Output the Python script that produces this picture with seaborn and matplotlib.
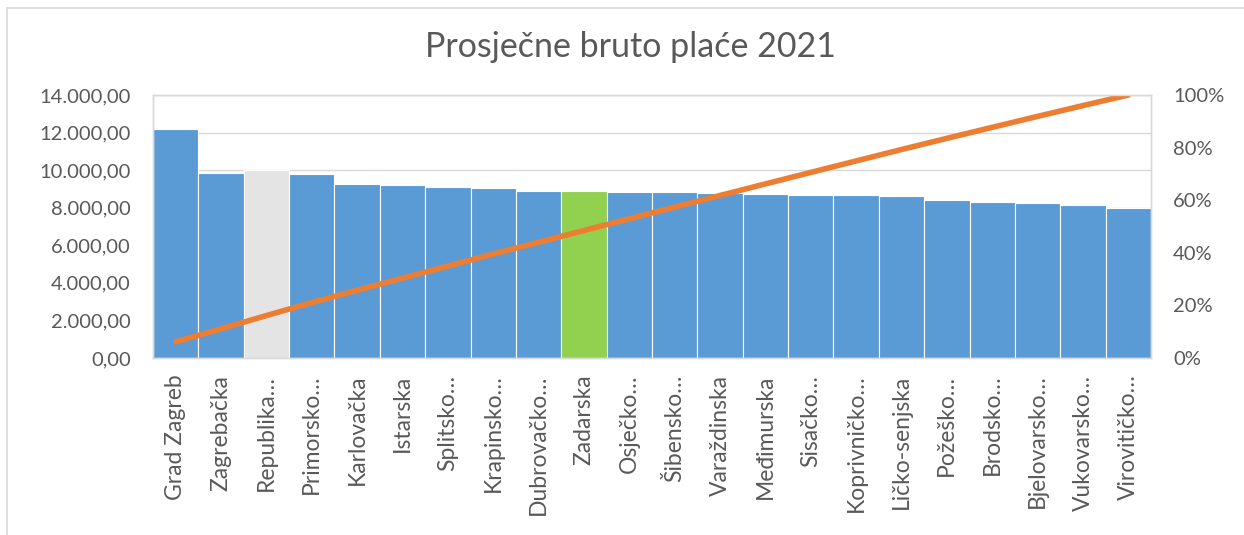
import matplotlib
matplotlib.use("Agg")
import matplotlib.pyplot as plt
import matplotlib.ticker as mticker
from matplotlib.lines import Line2D
import seaborn as sns
import numpy as np
import pandas as pd

categories = ["Grad Zagreb", "Zagrebačka", "Republika Hrvatska", "Primorsko-goranska",
              "Karlovačka", "Istarska", "Splitsko-dalmatinska", "Krapinsko-zagorska",
              "Dubrovačko-neretvanska", "Zadarska", "Osječko-baranjska", "Šibensko-kninska",
              "Varaždinska", "Međimurska", "Sisačko-moslavačka", "Koprivničko-križevačka",
              "Ličko-senjska", "Požeško-slavonska", "Brodsko-posavska", "Bjelovarsko-bilogorska",
              "Vukovarsko-srijemska", "Virovitičko-podravska"]
tick_labels = ["Grad Zagreb", "Zagrebačka", "Republika…", "Primorsko…", "Karlovačka",
               "Istarska", "Splitsko…", "Krapinsko…", "Dubrovačko…", "Zadarska",
               "Osječko…", "Šibensko…", "Varaždinska", "Međimurska", "Sisačko…",
               "Koprivničko…", "Ličko-senjska", "Požeško…", "Brodsko…", "Bjelovarsko…",
               "Vukovarsko…", "Virovitičko…"]
salaries = [12180, 9870, 10010, 9790, 9270, 9200, 9100, 9075, 8915, 8885, 8830, 8825,
            8780, 8740, 8670, 8665, 8635, 8435, 8315, 8260, 8170, 7980]

BLUE, GREY, GREEN, ORANGE = "#5B9BD5", "#E4E4E4", "#92D050", "#ED7D31"
colors = [GREY if c == "Republika Hrvatska" else GREEN if c == "Zadarska" else BLUE
          for c in categories]

df = pd.DataFrame({"zupanija": categories, "placa": salaries})
df["kumulativno"] = df["placa"].cumsum() / df["placa"].sum()

sns.set_theme(style="white")
plt.rcParams["font.family"] = ["Lato", "DejaVu Sans"]
TXT = "#595959"

fig = plt.figure(figsize=(12.44, 5.35), dpi=100)
ax = fig.add_axes([153/1244, 1-358/535, (1151-153)/1244, (358-95)/535])

sns.barplot(data=df, x="zupanija", y="placa", hue="zupanija", palette=colors,
            width=1.0, legend=False, edgecolor="white", linewidth=0.8, ax=ax,
            saturation=1, zorder=2)
ax.set_ylim(0, 14000)
ax.set_xlim(-0.5, len(categories) - 0.5)
ax.yaxis.set_major_locator(mticker.MultipleLocator(2000))
ax.yaxis.set_major_formatter(mticker.FuncFormatter(
    lambda v, p: f"{v:,.2f}".replace(",", "X").replace(".", ",").replace("X", ".")))
ax.grid(axis="y", color="#D9D9D9", linewidth=1, zorder=0)
ax.set_axisbelow(True)
ax.set_xticks(range(len(categories)))
ax.set_xticklabels(tick_labels, rotation=90, va="top", ha="center")
ax.set_xlabel("")
ax.set_ylabel("")
ax.tick_params(axis="both", length=0, colors=TXT)
ax.tick_params(axis="y", pad=16, labelsize=14.5)
ax.tick_params(axis="x", pad=12, labelsize=16.5)
for s in ax.spines.values():
    s.set_color("#D9D9D9")
    s.set_linewidth(1)

ax2 = ax.twinx()
sns.lineplot(x=np.arange(len(categories)), y=df["kumulativno"].values, color=ORANGE,
             linewidth=4, ax=ax2, solid_capstyle="round")
ax2.set_ylim(0, 1)
ax2.yaxis.set_major_locator(mticker.MultipleLocator(0.2))
ax2.yaxis.set_major_formatter(mticker.PercentFormatter(1.0, decimals=0))
ax2.tick_params(axis="y", length=0, labelsize=14.5, colors=TXT, pad=16)
ax2.set_ylabel("")
for s in ax2.spines.values():
    s.set_color("#D9D9D9")
    s.set_linewidth(1)

fig.text(630/1244, 1-47/535, "Prosječne bruto plaće 2021", ha="center", va="center",
         fontsize=24.5, color=TXT)
fig.add_artist(Line2D([6.5/1244, 6.5/1244], [0, 1-8/535], transform=fig.transFigure,
                      color="#D9D9D9", linewidth=1.2))
fig.add_artist(Line2D([6.5/1244, 1], [1-8/535, 1-8/535], transform=fig.transFigure,
                      color="#D9D9D9", linewidth=1.2))
fig.savefig("out.png", dpi=100)
